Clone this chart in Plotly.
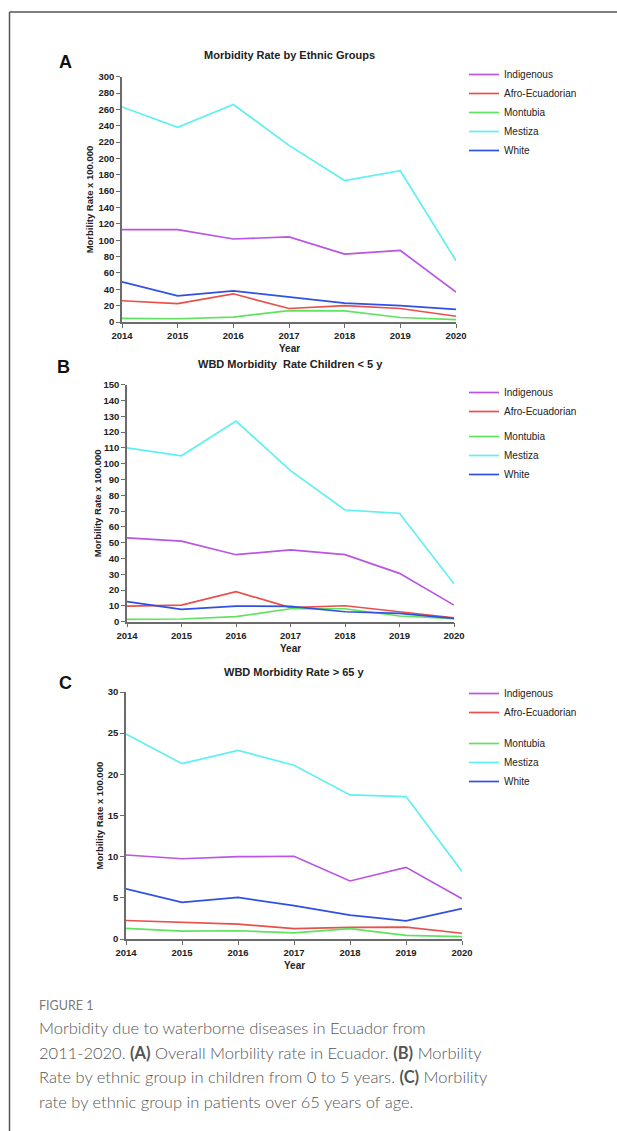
import plotly.graph_objects as go

W, H = 617, 1131

years = [2014, 2015, 2016, 2017, 2018, 2019, 2020]
groups = ["Indigenous", "Afro-Ecuadorian", "Montubia", "Mestiza", "White"]
colors = {"Indigenous": "#b955e3", "Afro-Ecuadorian": "#e8504c",
          "Montubia": "#5fe35f", "Mestiza": "#5ff0f0", "White": "#3050e3"}

# Panel A: overall morbidity rate
a_indigenous = [113, 113, 101.5, 104, 83, 87.5, 36.5]
a_afro = [26, 22.5, 34.5, 16.5, 20, 16.5, 7]
a_montubia = [4.5, 4, 6, 14, 13.5, 5.5, 3]
a_mestiza = [263, 238, 266, 216, 173, 185, 75]
a_white = [49, 32, 38, 30.5, 23, 20, 15.5]

# Panel B: children < 5 y
b_indigenous = [53, 51, 42.4, 45.4, 42.4, 30.6, 10.5]
b_afro = [9.9, 10.5, 19, 8.9, 10.1, 6.3, 2.5]
b_montubia = [1.5, 1.7, 3.2, 8.2, 8.2, 3.6, 1.9]
b_mestiza = [110, 105, 127, 95.6, 70.7, 68.6, 24]
b_white = [12.7, 7.8, 9.9, 9.7, 6.3, 5.3, 2.1]

# Panel C: > 65 y
c_indigenous = [10.2, 9.75, 10.0, 10.05, 7.05, 8.7, 4.9]
c_afro = [2.25, 2.05, 1.8, 1.25, 1.4, 1.45, 0.7]
c_montubia = [1.3, 0.95, 1.0, 0.75, 1.25, 0.45, 0.3]
c_mestiza = [24.9, 21.3, 22.9, 21.1, 17.5, 17.3, 8.2]
c_white = [6.1, 4.45, 5.05, 4.05, 2.9, 2.2, 3.7]

panels = [
    dict(key="A", title="Morbidity Rate by Ethnic Groups",
         data=[a_indigenous, a_afro, a_montubia, a_mestiza, a_white],
         ymax=300, dtick=20, px=(122, 456), py=(76.7, 322), ylab_dx=33,
         title_y=55, letter_xy=(65, 62), legend_top=60, gap=0),
    dict(key="B", title="WBD Morbidity  Rate Children < 5 y",
         data=[b_indigenous, b_afro, b_montubia, b_mestiza, b_white],
         ymax=150, dtick=10, px=(127, 454), py=(384.7, 621.7), ylab_dx=30,
         title_y=364, letter_xy=(63, 367), legend_top=378, gap=6),
    dict(key="C", title="WBD Morbidity Rate > 65 y",
         data=[c_indigenous, c_afro, c_montubia, c_mestiza, c_white],
         ymax=30, dtick=5, px=(126, 462), py=(692, 939), ylab_dx=27,
         title_y=672, letter_xy=(65, 683), legend_top=679, gap=12),
]

FONT = "Liberation Sans, Arial, sans-serif"
AXC = "#6b6b6b"

fig = go.Figure()
layout = dict(width=W, height=H, autosize=False,
              margin=dict(l=0, r=0, t=0, b=0, pad=0, autoexpand=False),
              paper_bgcolor="white", plot_bgcolor="white",
              font=dict(family=FONT, color="#222"))
annotations = []
shapes = []

def fx(p):
    return p / W

def fy(p):
    return 1 - p / H

def label(text, x, y, size, **kw):
    d = dict(text=text, x=fx(x), y=fy(y), xref="paper", yref="paper",
             xanchor=kw.pop("xanchor", "center"), yanchor="middle",
             showarrow=False, font=dict(size=size, weight=kw.pop("weight", "bold"),
                                        color=kw.pop("color", "#222"),
                                        family=kw.pop("family", FONT)))
    d.update(kw)
    annotations.append(d)

for i, p in enumerate(panels):
    n = "" if i == 0 else str(i + 1)
    lname = "legend" + n
    for g, vals in zip(groups, p["data"]):
        fig.add_trace(go.Scatter(
            x=years, y=vals, name=g, mode="lines",
            line=dict(color=colors[g], width=1.7),
            xaxis="x" + n, yaxis="y" + n, legend=lname,
            legendgroup=p["key"] + ("1" if g in groups[:2] else "2"),
        ))
    axis_common = dict(showgrid=False, zeroline=False, automargin=False,
                       showline=True, linecolor=AXC, linewidth=1.5,
                       ticks="outside", ticklen=4, tickcolor=AXC, tickwidth=1.2,
                       tickfont=dict(size=9.5, weight="bold", color="#222",
                                     family=FONT))
    layout["xaxis" + n] = dict(
        domain=[fx(p["px"][0]), fx(p["px"][1])], anchor="y" + n,
        range=[2014, 2020], tickvals=years, **axis_common)
    layout["yaxis" + n] = dict(
        domain=[fy(p["py"][1]), fy(p["py"][0])], anchor="x" + n,
        range=[0, p["ymax"]], dtick=p["dtick"], tick0=0, **axis_common)
    layout[lname] = dict(
        x=fx(464), y=fy(p["legend_top"]), xanchor="left", yanchor="top",
        bgcolor="rgba(0,0,0,0)", traceorder="grouped",
        tracegroupgap=p["gap"], font=dict(size=10, color="#222", family=FONT))
    cx = (p["px"][0] + p["px"][1]) / 2
    cy = (p["py"][0] + p["py"][1]) / 2
    label(p["title"], cx, p["title_y"], 11)
    label(p["key"], p["letter_xy"][0], p["letter_xy"][1], 18, color="#111")
    label("Year", cx, p["py"][1] + 26.5, 10)
    label("Morbility Rate x 100.000", p["px"][0] - p["ylab_dx"], cy, 9.5,
          textangle=-90)

# frame lines
shapes.append(dict(type="line", xref="paper", yref="paper",
                   x0=fx(9.5), x1=fx(9.5), y0=fy(12), y1=0,
                   line=dict(color="#555", width=1.5)))
shapes.append(dict(type="line", xref="paper", yref="paper",
                   x0=fx(9.5), x1=1, y0=fy(12), y1=fy(12),
                   line=dict(color="#555", width=1.5)))

# caption
CAP = "Lato, Open Sans, sans-serif"
label("FIGURE 1", 37, 1005, 12.5, xanchor="left", weight="normal",
      color="#7a7a7a", family=CAP)
cap_lines = [
    "Morbidity due to waterborne diseases in Ecuador from",
    "2011-2020. <b>(A)</b> Overall Morbility rate in Ecuador. <b>(B)</b> Morbility",
    "Rate by ethnic group in children from 0 to 5 years. <b>(C)</b> Morbility",
    "rate by ethnic group in patients over 65 years of age.",
]
for k, t in enumerate(cap_lines):
    label(t, 37, 1028 + k * 24.5, 16.5, xanchor="left", weight=300,
          color="#555555", family=CAP)

layout["annotations"] = annotations
layout["shapes"] = shapes
fig.update_layout(**layout)
fig.write_html("out.html", config={"displayModeBar": False},
               post_script="document.body.style.margin='0';"
                           "document.body.style.overflow='hidden';")
